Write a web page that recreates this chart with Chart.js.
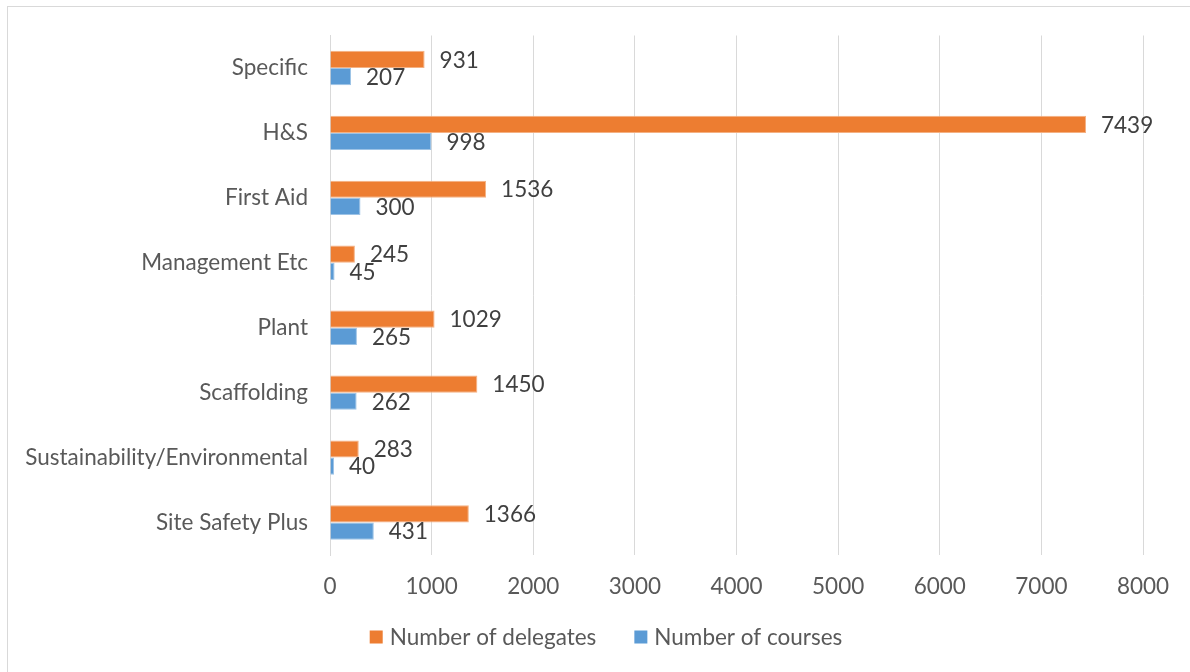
<!DOCTYPE html>
<html>
<head>
<meta charset="utf-8">
<script src="https://cdn.jsdelivr.net/npm/chart.js@4.4.1/dist/chart.umd.min.js"></script>
<style>
  html, body { margin: 0; padding: 0; background: #fff; overflow: hidden; }
  #frame {
    position: absolute; left: 7px; top: 6px;
    width: 1200px; height: 700px;
    border: 1px solid #d9d9d9;
  }
  #wrap { position: absolute; left: 0; top: 0; width: 1190px; height: 672px; }
</style>
</head>
<body>
<div id="frame"></div>
<div id="wrap"><canvas id="chart"></canvas></div>
<script>
var categories = ["Specific", "H&S", "First Aid", "Management Etc", "Plant",
                  "Scaffolding", "Sustainability/Environmental", "Site Safety Plus"];
var delegates = [931, 7439, 1536, 245, 1029, 1450, 283, 1366];
var courses = [207, 998, 300, 45, 265, 262, 40, 431];
var xTicks = [0, 1000, 2000, 3000, 4000, 5000, 6000, 7000, 8000];

var FONT = "Lato, 'Liberation Sans', sans-serif";
var SIZE = 22.5;

// writes each bar's value just past its end
var valueLabels = {
    id: 'valueLabels',
    afterDatasetsDraw: function(chart) {
        var ctx = chart.ctx;
        ctx.save();
        ctx.font = SIZE + "px " + FONT;
        ctx.fillStyle = "#404040";
        ctx.textAlign = "left";
        ctx.textBaseline = "middle";
        chart.data.datasets.forEach(function(dataset, i) {
            var meta = chart.getDatasetMeta(i);
            meta.data.forEach(function(bar, j) {
                ctx.fillText(String(dataset.data[j]), bar.x + 15, bar.y + 1);
            });
        });
        ctx.restore();
    }
};

// legend row under the axis, centred on the frame
var bottomLegend = {
    id: 'bottomLegend',
    afterDraw: function(chart) {
        var ctx = chart.ctx;
        var box = 13, gap = 7, spacing = 38;
        var y = 637;
        ctx.save();
        ctx.font = SIZE + "px " + FONT;
        ctx.textBaseline = "middle";
        ctx.textAlign = "left";
        var total = 0;
        chart.data.datasets.forEach(function(ds, i) {
            total += box + gap + ctx.measureText(ds.label).width;
            if (i > 0) total += spacing;
        });
        var x = 606 - total / 2;
        chart.data.datasets.forEach(function(ds) {
            ctx.fillStyle = ds.backgroundColor;
            ctx.fillRect(x, y - box / 2, box, box);
            x += box + gap;
            ctx.fillStyle = "#595959";
            ctx.fillText(ds.label, x, y + 1);
            x += ctx.measureText(ds.label).width + spacing;
        });
        ctx.restore();
    }
};

var ctx = document.getElementById("chart").getContext("2d");
window.myBar = new Chart(ctx, {
    type: 'bar',
    data: {
        labels: categories,
        datasets: [{
            label: "Number of delegates",
            data: delegates,
            backgroundColor: "#ED7D31",
            borderColor: "#F4B183",
            borderWidth: 1
        }, {
            label: "Number of courses",
            data: courses,
            backgroundColor: "#5B9BD5",
            borderColor: "#9DC3E6",
            borderWidth: 1
        }]
    },
    options: {
        indexAxis: 'y',
        responsive: true,
        maintainAspectRatio: false,
        animation: false,
        categoryPercentage: 0.53,
        barPercentage: 1.0,
        layout: {
            padding: { left: 0, right: 47, top: 35, bottom: 61 }
        },
        scales: {
            x: {
                min: 0,
                max: 8000,
                afterBuildTicks: function(axis) {
                    axis.ticks = xTicks.map(function(v) { return { value: v }; });
                },
                grid: { color: "#d9d9d9", lineWidth: 1, drawTicks: false },
                border: { display: false },
                ticks: {
                    color: "#595959",
                    font: { family: FONT, size: SIZE },
                    padding: 18,
                    callback: function(value) { return String(value); }
                },
                afterFit: function(axis) { axis.height = 56; }
            },
            y: {
                grid: { display: false, drawTicks: false },
                border: { display: true, color: "#d9d9d9" },
                ticks: {
                    color: "#595959",
                    font: { family: FONT, size: SIZE },
                    padding: 22
                },
                afterFit: function(axis) { axis.width = 330; }
            }
        },
        plugins: {
            legend: { display: false },
            tooltip: { enabled: false },
            title: { display: false }
        }
    },
    plugins: [valueLabels, bottomLegend]
});
</script>
</body>
</html>
